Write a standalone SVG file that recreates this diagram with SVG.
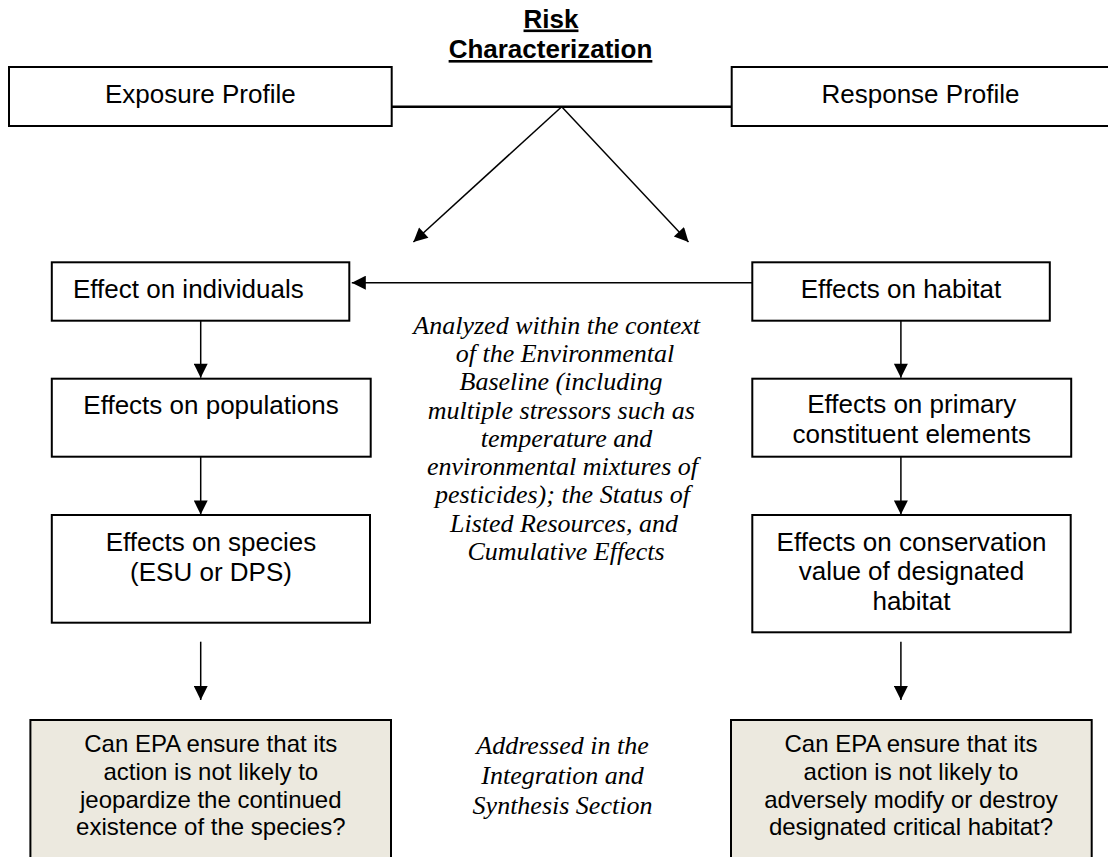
<svg xmlns="http://www.w3.org/2000/svg" width="1108" height="857" viewBox="0 0 1108 857">
<style>
.box{fill:#fff;stroke:#000;stroke-width:2}
.q{fill:#ECE9DF;stroke:#000;stroke-width:2}
.t{font-family:"Liberation Sans",Arial,sans-serif;font-size:26px;fill:#000}
.tq{font-family:"Liberation Sans",Arial,sans-serif;font-size:24px;fill:#000;text-anchor:middle}
.c{text-anchor:middle}
.it{font-family:"Liberation Serif","Times New Roman",serif;font-style:italic;font-size:26px;fill:#000;text-anchor:middle}
.title{font-family:"Liberation Sans",Arial,sans-serif;font-size:26px;font-weight:bold;fill:#000;text-anchor:middle;text-decoration:underline}
.ln{fill:none;stroke:#000;stroke-width:1.5}
.arr{fill:none;stroke:#000;stroke-width:1.5;marker-end:url(#ah)}
</style>
<defs>
<marker id="ah" viewBox="0 0 10 10" refX="10" refY="5" markerUnits="userSpaceOnUse" markerWidth="16" markerHeight="14" orient="auto">
<path d="M0,0 L10,5 L0,10 z" fill="#000"/>
</marker>
</defs>

<g id="title">
<text class="title" x="551" y="27.5">Risk</text>
<text class="title" x="550.5" y="58">Characterization</text>
</g>

<g id="connectors">
<path class="ln" d="M391.7,106.7 H731.7" style="stroke-width:2.5"/>
<path class="arr" d="M561.7,106.7 L413.4,242"/>
<path class="arr" d="M561.7,106.7 L688.5,242"/>
<path class="arr" d="M752.3,282.7 H351.8"/>
<path class="arr" d="M200.7,320.7 V377.7"/>
<path class="arr" d="M200.7,456.7 V514.5"/>
<path class="arr" d="M200.7,641.7 V700"/>
<path class="arr" d="M900.9,320.7 V377.7"/>
<path class="arr" d="M900.9,456.7 V514.5"/>
<path class="arr" d="M900.9,641.7 V700"/>
</g>

<g id="exposure">
<rect class="box" x="9" y="67" width="382.7" height="59"/>
<text class="t c" x="200.3" y="103.3">Exposure Profile</text>
</g>

<g id="response">
<rect class="box" x="731.7" y="67" width="378" height="59"/>
<text class="t c" x="920.5" y="103.3">Response Profile</text>
</g>

<g id="individuals">
<rect class="box" x="51.8" y="262.3" width="297.5" height="58.4"/>
<text class="t" x="73" y="297.7">Effect on individuals</text>
</g>

<g id="populations">
<rect class="box" x="51.8" y="378.7" width="318.9" height="78"/>
<text class="t c" x="211" y="414">Effects on populations</text>
</g>

<g id="species">
<rect class="box" x="51.8" y="515" width="318.2" height="107.7"/>
<text class="t c" x="211" y="550.7">Effects on species</text>
<text class="t c" x="211" y="581">(ESU or DPS)</text>
</g>

<g id="habitat">
<rect class="box" x="752.3" y="262.3" width="297.5" height="58.4"/>
<text class="t c" x="901" y="297.7">Effects on habitat</text>
</g>

<g id="primary">
<rect class="box" x="752.3" y="378.7" width="318.9" height="78"/>
<text class="t c" x="911.7" y="413.3">Effects on primary</text>
<text class="t c" x="911.7" y="443.3">constituent elements</text>
</g>

<g id="conservation">
<rect class="box" x="752.3" y="515" width="318.4" height="117.3"/>
<text class="t c" x="911.5" y="550.7">Effects on conservation</text>
<text class="t c" x="911.5" y="580">value of designated</text>
<text class="t c" x="911.5" y="610">habitat</text>
</g>

<g id="baseline-note">
<text class="it" x="556.7" y="334">Analyzed within the context</text>
<text class="it" x="565" y="362.3">of the Environmental</text>
<text class="it" x="561" y="390.3">Baseline (including</text>
<text class="it" x="561.3" y="418.5">multiple stressors such as</text>
<text class="it" x="566.5" y="446.7">temperature and</text>
<text class="it" x="562.5" y="475">environmental mixtures of</text>
<text class="it" x="562.5" y="503.3">pesticides); the Status of</text>
<text class="it" x="564" y="531.7">Listed Resources, and</text>
<text class="it" x="566" y="560">Cumulative Effects</text>
</g>

<g id="jeopardy">
<rect class="q" x="30.4" y="720" width="360.6" height="142"/>
<text class="tq" x="210.8" y="752.3">Can EPA ensure that its</text>
<text class="tq" x="210.8" y="780">action is not likely to</text>
<text class="tq" x="210.8" y="807.5">jeopardize the continued</text>
<text class="tq" x="210.8" y="835">existence of the species?</text>
</g>

<g id="synthesis-note">
<text class="it" x="562.5" y="754">Addressed in the</text>
<text class="it" x="562.5" y="784.3">Integration and</text>
<text class="it" x="562.5" y="814">Synthesis Section</text>
</g>

<g id="critical-habitat">
<rect class="q" x="731" y="720" width="360.7" height="142"/>
<text class="tq" x="911" y="752.3">Can EPA ensure that its</text>
<text class="tq" x="911" y="780">action is not likely to</text>
<text class="tq" x="911" y="807.5">adversely modify or destroy</text>
<text class="tq" x="911" y="835">designated critical habitat?</text>
</g>
</svg>
